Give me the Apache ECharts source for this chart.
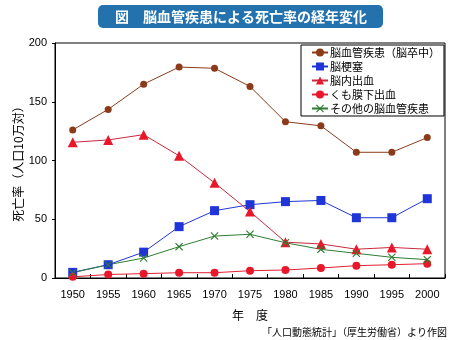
<!DOCTYPE html>
<html>
<head>
<meta charset="utf-8">
<script src="https://cdn.jsdelivr.net/npm/echarts@6/dist/echarts.min.js"></script>
<style>
html,body{margin:0;padding:0;background:#fff;}
#chart{width:473px;height:340px;}
</style>
</head>
<body>
<div id="chart"></div>
<script>
// 年度
const years = ['1950','1955','1960','1965','1970','1975','1980','1985','1990','1995','2000'];
// 死亡率（人口10万対）
const cerebrovascular = [126, 143.5, 165, 179.5, 178.5, 163, 133, 129.5, 107, 107, 119.5];
const infarction      = [4.8, 11.3, 22, 43.7, 57.3, 62.4, 65, 66, 51.3, 51.3, 67.5];
const hemorrhage      = [115.5, 117.5, 122, 104, 81, 56.5, 30.5, 29, 24.5, 26, 24.5];
const subarachnoid    = [1, 3, 3.7, 4.5, 4.5, 6.2, 6.8, 8.5, 10.5, 11.3, 12.2];
const otherDiseases   = [4.5, 11.3, 17, 26.7, 35.7, 37.2, 30, 24.4, 21, 17.6, 15.6];
const yTicks = [0, 50, 100, 150, 200];

const seriesNames = ['脳血管疾患（脳卒中）', '脳梗塞', '脳内出血', 'くも膜下出血', 'その他の脳血管疾患'];
const FONT = '"Noto Sans CJK JP", "Noto Sans", sans-serif';
const crossPath = 'path://M0,1L1,0L5,4L9,0L10,1L6,5L10,9L9,10L5,6L1,10L0,9L4,5Z';

function mkSeries(name, data, symbol, size, markColor, lineColor) {
  return {
    name, type: 'line', data, symbol, symbolSize: size,
    showSymbol: true,
    itemStyle: { color: markColor },
    lineStyle: { color: lineColor, width: 1 },
    emphasis: { disabled: true },
    animation: false
  };
}

const chart = echarts.init(document.getElementById('chart'));
chart.setOption({
  animation: false,
  textStyle: { fontFamily: FONT },
  grid: { left: 55, top: 43, right: 28, bottom: 62, show: true, borderColor: '#000', borderWidth: 1 },
  graphic: [
    { type: 'rect', shape: { x: 98, y: 5, width: 285, height: 23, r: 5 },
      style: { fill: '#2372ae' } },
    { type: 'text', x: 241, y: 16.5,
      style: { text: '図　脳血管疾患による死亡率の経年変化', fill: '#fff',
        font: 'bold 14px ' + FONT, align: 'center', verticalAlign: 'middle' } },
    { type: 'text', x: 250, y: 315,
      style: { text: '年　度', fill: '#000', font: '12px ' + FONT, align: 'center', verticalAlign: 'middle' } },
    { type: 'text', x: 447, y: 332,
      style: { text: '「人口動態統計」（厚生労働省）より作図', fill: '#000', font: '10px ' + FONT, align: 'right', verticalAlign: 'middle' } },
    { type: 'text', x: 18, y: 161, rotation: Math.PI / 2,
      style: { text: '死亡率（人口10万対）', fill: '#000', font: '12px ' + FONT, align: 'center', verticalAlign: 'middle' } }
  ],
  legend: {
    orient: 'vertical', left: 301, top: 45,
    backgroundColor: '#fff', borderColor: '#000', borderWidth: 1,
    padding: [2, 4, 2, 10], itemGap: 3, itemWidth: 16, itemHeight: 10,
    textStyle: { fontSize: 11, color: '#000', fontFamily: FONT, padding: [0, 0, 0, -3] },
    selectedMode: false,
    data: seriesNames
  },
  xAxis: {
    type: 'category', data: years, boundaryGap: true,
    axisLine: { lineStyle: { color: '#000' } },
    axisTick: { show: true, inside: true, length: 4, lineStyle: { color: '#000' } },
    axisLabel: { color: '#000', fontSize: 11, margin: 11, fontFamily: 'Liberation Sans, Arial, sans-serif' },
    splitLine: { show: false }
  },
  yAxis: {
    type: 'value', min: yTicks[0], max: yTicks[yTicks.length - 1], interval: 50,
    axisLine: { show: true, lineStyle: { color: '#000' } },
    axisTick: { show: true, length: 3, lineStyle: { color: '#000' } },
    axisLabel: { color: '#000', fontSize: 11, margin: 8, fontFamily: 'Liberation Sans, Arial, sans-serif' },
    splitLine: { show: false }
  },
  series: [
    mkSeries(seriesNames[0], cerebrovascular, 'circle', 7, '#8b3a1a', '#8b3a1a'),
    mkSeries(seriesNames[1], infarction, 'rect', 9, '#1f35d8', '#1f35d8'),
    mkSeries(seriesNames[2], hemorrhage, 'triangle', 10, '#e8182a', '#c8283c'),
    mkSeries(seriesNames[3], subarachnoid, 'circle', 8, '#e8182a', '#e02030'),
    mkSeries(seriesNames[4], otherDiseases, crossPath, 8, '#2e7d32', '#2e7d32')
  ]
});
</script>
</body>
</html>
